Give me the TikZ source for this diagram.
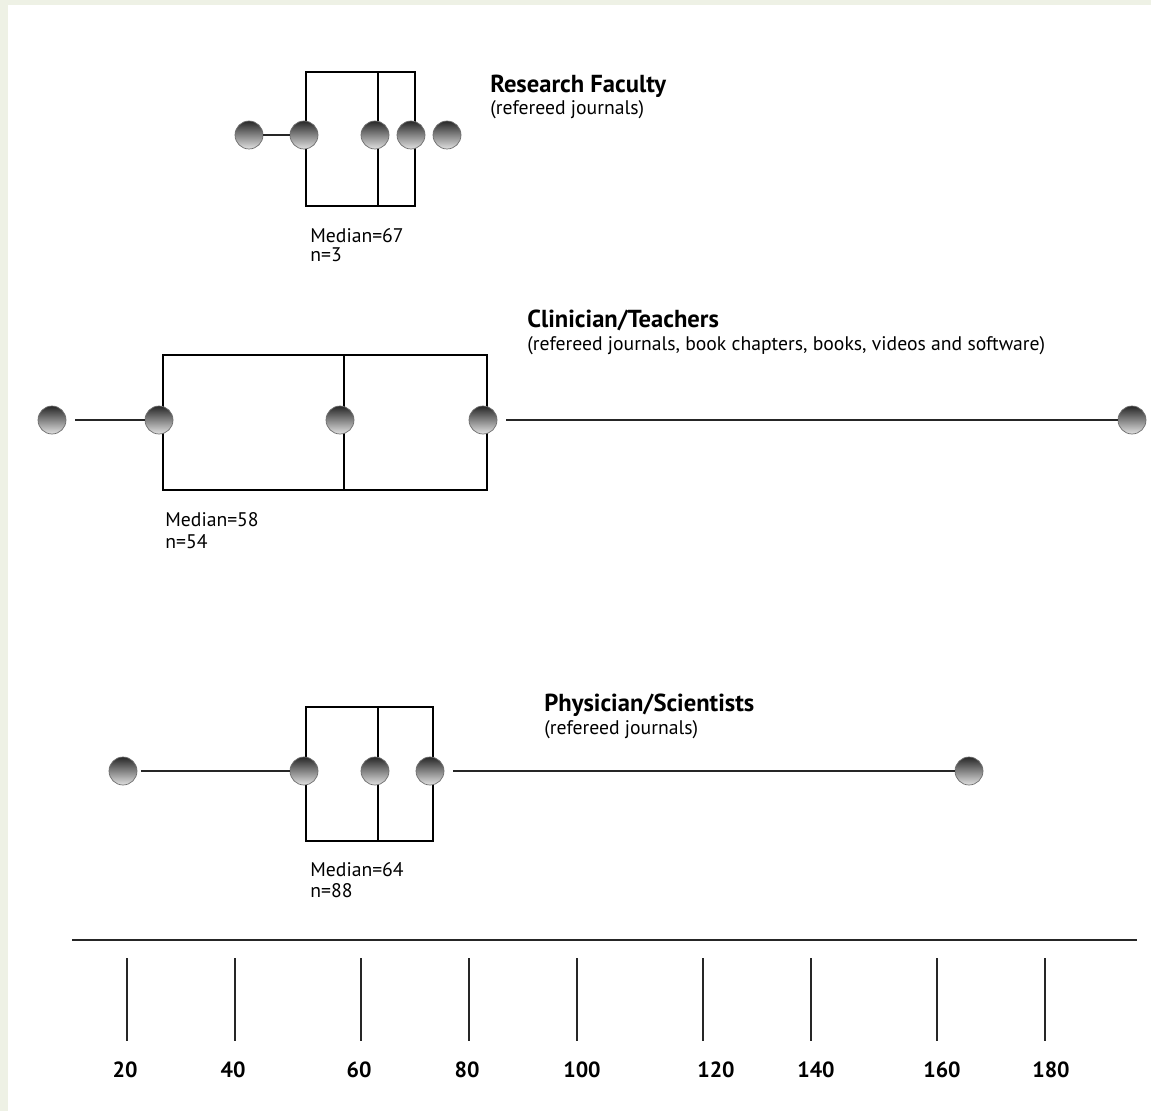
\documentclass[tikz,border=0pt]{standalone}
\usepackage{fontspec}
\setmainfont{PT Sans}
\usepackage{xcolor}
\usepackage{tikz}
\usetikzlibrary{positioning}
\definecolor{pageframe}{RGB}{238,241,229}
\definecolor{balldark}{RGB}{40,40,40}
\definecolor{balllight}{RGB}{225,225,225}
\definecolor{ballrim}{RGB}{110,110,110}

\begin{document}
\begin{tikzpicture}[
    x=0.02cm, y=-0.02cm,
    ball/.style={circle, draw=ballrim, thin, top color=balldark, bottom color=balllight, minimum size=0.56cm, inner sep=0pt},
    whisker/.style={line width=0.8pt, black!85},
    boxline/.style={line width=0.9pt, black},
    title/.style={font=\bfseries\fontsize{14}{16}\selectfont, anchor=base west, inner sep=0pt},
    note/.style={font=\fontsize{11.2}{13}\selectfont, anchor=base west, inner sep=0pt},
    every node/.style={font=\small},
]
    % page background
    \fill[pageframe] (0,0) rectangle (1151,1111);
    \fill[white] (8,5) rectangle (1151,1111);

    % Research Faculty
    \draw[boxline] (306,72) rectangle (415,206);
    \draw[boxline] (378,72) -- (378,206);
    \node[ball] (rfMin) at (249,135) {};
    \node[ball] (rfLow) at (304,135) {};
    \node[ball] (rfMed) at (375,135) {};
    \node[ball] (rfUp) at (411,135) {};
    \node[ball] (rfMax) at (447,135) {};
    \draw[whisker] (rfMin) -- (rfLow);
    \node[title] (rfTitle) at (490,93) {Research Faculty};
    \node[note] (rfSub) at (490,115) {(refereed journals)};
    \node[note] (rfMedian) at (310,243) {Median=67};
    \node[note] (rfN) at (310,261) {n=3};

    % Clinician/Teachers
    \draw[boxline] (163,355) rectangle (487,490);
    \draw[boxline] (344,355) -- (344,490);
    \node[ball] (ctMin) at (52,420) {};
    \node[ball] (ctLow) at (159,420) {};
    \node[ball] (ctMed) at (340,420) {};
    \node[ball] (ctUp) at (483,420) {};
    \node[ball] (ctMax) at (1132,420) {};
    \draw[whisker, shorten <=5pt] (ctMin) -- (ctLow);
    \draw[whisker, shorten <=5pt] (ctUp) -- (ctMax);
    \node[title] (ctTitle) at (527,327) {Clinician/Teachers};
    \node[note] (ctSub) at (527,350) {(refereed journals, book chapters, books, videos and software)};
    \node[note] (ctMedian) at (165,526) {Median=58};
    \node[note] (ctN) at (165,548) {n=54};

    % Physician/Scientists
    \draw[boxline] (306,707) rectangle (433,841);
    \draw[boxline] (378,707) -- (378,841);
    \node[ball] (psMin) at (123,771) {};
    \node[ball] (psLow) at (304,771) {};
    \node[ball] (psMed) at (375,771) {};
    \node[ball] (psUp) at (430,771) {};
    \node[ball] (psMax) at (969,771) {};
    \draw[whisker, shorten <=2pt] (psMin) -- (psLow);
    \draw[whisker, shorten <=5pt] (psUp) -- (psMax);
    \node[title] (psTitle) at (544,711) {Physician/Scientists};
    \node[note] (psSub) at (544,734) {(refereed journals)};
    \node[note] (psMedian) at (310,876) {Median=64};
    \node[note] (psN) at (310,897) {n=88};

    % Axis
    \draw[whisker, line width=1pt] (72,940) -- (1137,940);
    \foreach \x/\lx/\lab in {127/125/20, 235/233/40, 361/359/60, 469/467/80, 577/582/100, 703/716/120, 811/816/140, 937/942/160, 1045/1051/180} {
        \draw[whisker] (\x,958) -- (\x,1041);
        \node[font=\bfseries\fontsize{12.5}{14}\selectfont, anchor=base, inner sep=0pt] at (\lx,1077) {\lab};
    }
\end{tikzpicture}
\end{document}
